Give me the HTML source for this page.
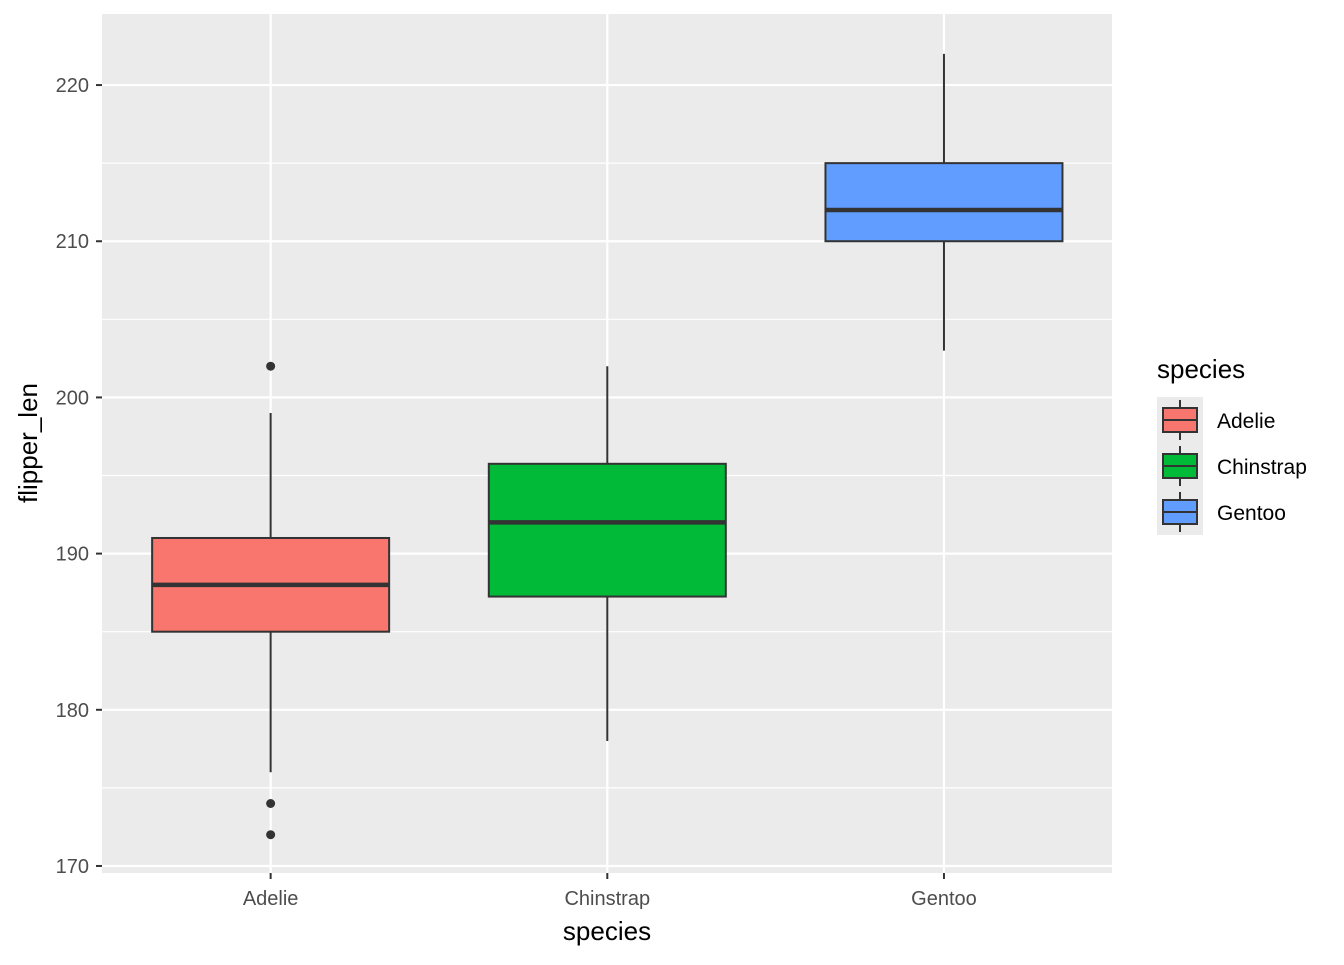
<!DOCTYPE html>
<html><head><meta charset="utf-8"><style>
body{margin:0;background:#fff;font-family:"Liberation Sans",sans-serif}
</style></head><body>
<svg id="chart" width="1344" height="960" xmlns="http://www.w3.org/2000/svg">
<rect x="102" y="14" width="1010" height="859" fill="#ebebeb"/>
<g id="grid"></g><g id="boxes"></g><g id="axes"></g>
<text x="607" y="940" font-size="26" text-anchor="middle" fill="#000">species</text>
<text transform="translate(37,443) rotate(-90)" font-size="26" text-anchor="middle" fill="#000">flipper_len</text>
<g>
<text x="1157" y="378" font-size="26" fill="#000">species</text>
<g id="legend"></g>
</g>
</svg>
<script>
const categories=["Adelie","Chinstrap","Gentoo"];
const q1=[185,187.25,210];
const medians=[188,192,212];
const q3=[191,195.75,215];
const whiskerLow=[176,178,203];
const whiskerHigh=[199,202,222];
const outliers=[[202,174,172],[],[]];
const colors=["#f8766d","#00ba38","#619cff"];
const yTicks=[170,180,190,200,210,220];
const NS="http://www.w3.org/2000/svg";
const yMin=169.55,yMax=224.55,panelTop=14,panelBot=873;
function y(v){return panelBot-(v-yMin)/(yMax-yMin)*(panelBot-panelTop);}
function x(i){return 102+1010*(i+0.5)/3+0.3;}
const bw=237;
function mk(parent,tag,attrs){const e=document.createElementNS(NS,tag);for(const k in attrs)e.setAttribute(k,attrs[k]);document.getElementById(parent).appendChild(e);return e;}
for(let i=0;i<yTicks.length-1;i++){const v=(yTicks[i]+yTicks[i+1])/2;
const l=mk("grid","line",{x1:102,x2:1112,y1:y(v),y2:y(v),stroke:"#fff","stroke-width":1.2});

}
yTicks.forEach(v=>{const l=mk("grid","line",{x1:102,x2:1112,y1:y(v),y2:y(v),stroke:"#fff","stroke-width":2.2});


const t=mk("axes","line",{x1:96,x2:102,y1:y(v),y2:y(v),stroke:"#333","stroke-width":2});


const tx=mk("axes","text",{x:89,y:y(v)+7,"font-size":20,"text-anchor":"end",fill:"#4d4d4d"});tx.textContent=v;

});
categories.forEach((c,i)=>{const l=mk("grid","line",{x1:x(i),x2:x(i),y1:panelTop,y2:panelBot,stroke:"#fff","stroke-width":2.2});


const t=mk("axes","line",{x1:x(i),x2:x(i),y1:873,y2:879,stroke:"#333","stroke-width":2});


const tx=mk("axes","text",{x:x(i),y:905,"font-size":20,"text-anchor":"middle",fill:"#4d4d4d"});tx.textContent=c;


const w=mk("boxes","line",{x1:x(i),x2:x(i),y1:y(whiskerLow[i]),y2:y(whiskerHigh[i]),stroke:"#333","stroke-width":2});


const b=mk("boxes","rect",{x:x(i)-bw/2,y:y(q3[i]),width:bw,height:y(q1[i])-y(q3[i]),fill:colors[i],stroke:"#333","stroke-width":2});


const m=mk("boxes","line",{x1:x(i)-bw/2,x2:x(i)+bw/2,y1:y(medians[i]),y2:y(medians[i]),stroke:"#333","stroke-width":4.5});


outliers[i].forEach(o=>{const p=mk("boxes","circle",{cx:x(i),cy:y(o),r:4.5,fill:"#333"});

});
const ly=420+i*46;
const bg=mk("legend","rect",{x:1157,y:ly-23,width:46,height:46,fill:"#ebebeb"});


const vl=mk("legend","line",{x1:1180,x2:1180,y1:ly-20,y2:ly+20,stroke:"#333","stroke-width":2});


const kr=mk("legend","rect",{x:1163,y:ly-12,width:34,height:24,fill:colors[i],stroke:"#333","stroke-width":2});


const km=mk("legend","line",{x1:1163,x2:1197,y1:ly,y2:ly,stroke:"#333","stroke-width":2});


const lt=mk("legend","text",{x:1217,y:ly+8,"font-size":21,fill:"#000"});lt.textContent=c;


});
</script>
</body></html>
